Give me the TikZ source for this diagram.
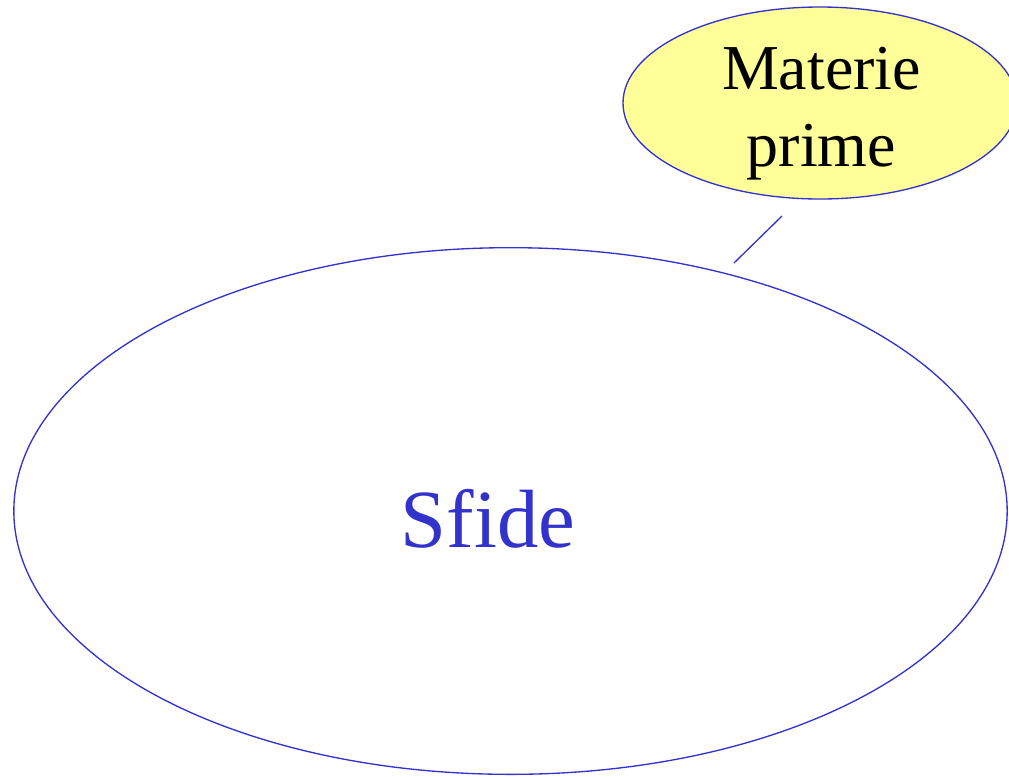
\documentclass[tikz,border=0pt]{standalone}
\usepackage{fontspec}
\setmainfont{Liberation Serif}
\usepackage{xcolor}
\usepackage{tikz}
\usetikzlibrary{positioning,shapes.geometric}
\definecolor{OutlineBlue}{HTML}{3333CC}
\definecolor{BubbleYellow}{HTML}{FFFF99}

\begin{document}
\begin{tikzpicture}[
        x=0.75pt, y=-0.75pt,
        bubble/.style={ellipse, draw=OutlineBlue, line width=1pt, inner sep=0pt},
        label text/.style={inner sep=0pt, align=center}
    ]
        \useasboundingbox (0,0) rectangle (1009,776);
        \node[bubble, minimum width=745pt, minimum height=395pt] (sfide) at (510.5,511) {};
        \node[bubble, fill=BubbleYellow, minimum width=295.5pt, minimum height=144pt] (materie) at (820,103) {};
        \node[label text, anchor=base, text=OutlineBlue, font=\fontsize{62}{70}\selectfont] (sfidetxt) at (488,547) {Sfide};
        \node[label text, anchor=north, font=\fontsize{48}{57.75}\selectfont] (materietxt) at (821.5,47) {Materie\\prime};
        % connector, left loose at both ends
        \coordinate (linktop) at (782,216);
        \coordinate (linkbot) at (734,263);
        \draw[OutlineBlue, line width=1pt] (linktop) -- (linkbot);
    \end{tikzpicture}
\end{document}
